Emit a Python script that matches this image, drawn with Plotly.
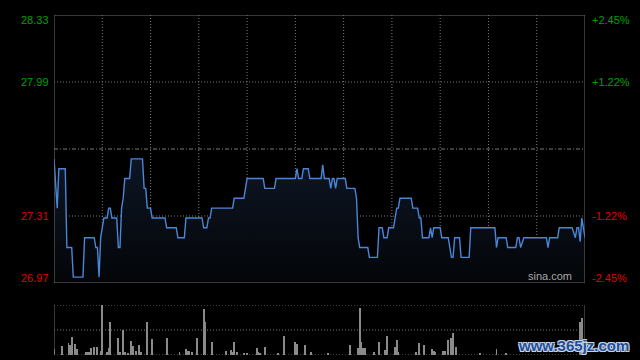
import plotly.graph_objects as go

# ---- data (HK session, 330 trading minutes) ----
prev_close = 27.65
y_low, y_high = 26.97, 28.33

price_minutes = [0, 2, 3, 7, 8, 11, 12, 18, 19, 25, 26, 27, 28, 29, 30, 31, 33, 34, 35, 36,
                 39, 40, 41, 42, 43, 44, 47, 48, 55, 56, 57, 58, 60, 61, 69, 70, 76, 77, 81, 82,
                 92, 93, 95, 96, 97, 98, 111, 112, 118, 119, 120, 130, 131, 137, 138, 150, 151, 152,
                 154, 155, 158, 159, 166, 167, 168, 171, 172, 173, 174, 175, 176, 181, 182, 187,
                 188, 189, 190, 195, 196, 201, 202, 204, 205, 207, 208, 211, 212, 213, 214, 215,
                 222, 223, 226, 227, 228, 229, 233, 234, 235, 236, 240, 241, 245, 247, 248, 249,
                 252, 253, 258, 259, 274, 275, 276, 281, 282, 287, 288, 289, 290, 292, 306, 307,
                 308, 313, 314, 322, 324, 325, 326, 327, 328, 330]
prices = [27.60, 27.35, 27.55, 27.55, 27.15, 27.15, 27.00, 27.00, 27.20, 27.20, 27.15, 27.15,
          27.00, 27.20, 27.25, 27.30, 27.30, 27.35, 27.35, 27.30,
          27.30, 27.15, 27.15, 27.35, 27.40, 27.50, 27.50, 27.60, 27.60, 27.45, 27.45, 27.35,
          27.35, 27.30, 27.30, 27.25, 27.25, 27.20, 27.20, 27.30,
          27.30, 27.25, 27.25, 27.30, 27.30, 27.35, 27.35, 27.40, 27.40, 27.45, 27.50, 27.50,
          27.45, 27.45, 27.50, 27.50, 27.55, 27.50,
          27.50, 27.55, 27.55, 27.50, 27.50, 27.57, 27.50, 27.50, 27.45, 27.50, 27.50, 27.45,
          27.50, 27.50, 27.45, 27.45,
          27.40, 27.20, 27.15, 27.15, 27.10, 27.10, 27.25, 27.25, 27.20, 27.20, 27.25, 27.25,
          27.30, 27.35, 27.35, 27.40,
          27.40, 27.35, 27.35, 27.30, 27.30, 27.20, 27.20, 27.25, 27.20, 27.25, 27.25, 27.20,
          27.20, 27.10, 27.10, 27.20,
          27.20, 27.10, 27.10, 27.25, 27.25, 27.15, 27.20, 27.20, 27.15, 27.15, 27.20, 27.20,
          27.15, 27.20, 27.20, 27.15,
          27.20, 27.20, 27.25, 27.25, 27.20, 27.25, 27.25, 27.18, 27.30, 27.20]

vol_minutes = [0, 5, 9, 10, 11, 13, 14, 20, 21, 22, 23, 25, 27, 29, 30, 33, 34, 35, 40, 41,
               43, 44, 46, 48, 49, 51, 53, 54, 58, 61, 70, 78, 82, 83, 84, 86, 89, 93, 94, 98,
               107, 110, 111, 112, 114, 118, 120, 126, 127, 128, 131, 139, 143, 150, 151, 156,
               160, 170, 184, 189, 190, 191, 192, 193, 199, 202, 206, 207, 212, 213, 214, 225,
               227, 230, 235, 236, 237, 242, 243, 245, 247, 248, 250, 265, 275, 281, 327, 328]
vol_values = [6, 9, 12, 10, 18, 11, 6, 3, 3, 3, 7, 8, 8, 4, 50, 3, 7, 33, 17, 3,
              25, 3, 2, 14, 9, 4, 10, 3, 33, 16, 17, 3, 6, 4, 4, 3, 17, 46, 33, 13,
              4, 5, 3, 13, 3, 2, 2, 7, 3, 2, 8, 2, 19, 13, 11, 10,
              3, 2, 10, 7, 47, 13, 7, 7, 3, 13, 5, 19, 8, 15, 3, 3,
              12, 10, 6, 4, 3, 4, 4, 15, 17, 22, 8, 2, 6, 2, 33, 37]

left_labels = ["28.33", "27.99", "27.31", "26.97"]
left_values = [28.33, 27.99, 27.31, 26.97]
right_labels = ["+2.45%", "+1.22%", "-1.22%", "-2.45%"]

GREEN = "#00a000"
RED = "#e00000"
GRID = "#7a7a7a"
BORDER = "#6e6e6e"
DOT = "1px,2px"

fig = go.Figure()

fig.add_trace(go.Scatter(
    x=price_minutes, y=prices, mode="lines",
    line=dict(color="#4a86d8", width=1.4),
    fill="tozeroy",
    fillgradient=dict(type="vertical",
                      colorscale=[[0, "rgb(3,5,8)"], [1, "rgb(14,22,36)"]],
                      start=y_low, stop=27.60),
    hoverinfo="skip", showlegend=False, xaxis="x", yaxis="y"))

fig.add_trace(go.Bar(
    x=vol_minutes, y=vol_values, width=0.6,
    marker=dict(color="#8a8a8a", line=dict(width=0)),
    hoverinfo="skip", showlegend=False, xaxis="x2", yaxis="y2"))

main_dom = [(360 - 283) / 360, (360 - 15) / 360]
vol_dom = [5 / 360, 55 / 360]

fig.update_layout(
    width=640, height=360,
    margin=dict(l=54, r=55, t=0, b=0),
    paper_bgcolor="black", plot_bgcolor="black",
    bargap=0,
    xaxis=dict(range=[0, 330], domain=[0, 1], showgrid=False, zeroline=False,
               showticklabels=False, anchor="y", fixedrange=True),
    yaxis=dict(range=[y_low, y_high], domain=main_dom, showgrid=False, zeroline=False,
               showticklabels=False, anchor="x"),
    xaxis2=dict(range=[0, 330], domain=[0, 1], showgrid=False, zeroline=False,
                showticklabels=False, anchor="y2"),
    yaxis2=dict(range=[0, 50], domain=vol_dom, showgrid=False, zeroline=False,
                showticklabels=False, anchor="x2"),
)

shapes = []
# vertical dotted grid (every 30 min) in the price pane
for m in range(30, 330, 30):
    shapes.append(dict(type="line", xref="x", yref="y", x0=m, x1=m, y0=y_low, y1=y_high,
                       line=dict(color=GRID, width=1, dash=DOT), layer="below"))
# horizontal grid
for v in [27.99, 27.31]:
    shapes.append(dict(type="line", xref="x", yref="y", x0=0, x1=330, y0=v, y1=v,
                       line=dict(color=GRID, width=1, dash=DOT), layer="below"))
shapes.append(dict(type="line", xref="x", yref="y", x0=0, x1=330, y0=prev_close, y1=prev_close,
                   line=dict(color=GRID, width=1, dash="4px,2px,1px,2px"), layer="below"))
# price pane border
shapes.append(dict(type="rect", xref="x", yref="y", x0=0, x1=330, y0=y_low, y1=y_high,
                   line=dict(color=BORDER, width=1)))
# volume pane frame
for v in [0, 25, 50]:
    shapes.append(dict(type="line", xref="x2", yref="y2", x0=0, x1=330, y0=v, y1=v,
                       line=dict(color=GRID, width=1, dash=DOT)))
for m in [0, 330]:
    shapes.append(dict(type="line", xref="x2", yref="y2", x0=m, x1=m, y0=0, y1=50,
                       line=dict(color=BORDER, width=1)))
fig.update_layout(shapes=shapes)

ann = []
shifts = [-5, 0, 0, 5]
for lab, val, rl, s in zip(left_labels, left_values, right_labels, shifts):
    col = GREEN if val > prev_close else RED
    ann.append(dict(text=lab, xref="paper", yref="y", x=0, y=val, xanchor="right",
                    yanchor="middle", xshift=-3, yshift=s, showarrow=False,
                    font=dict(family="Liberation Sans, Arial", size=11, color=col)))
    ann.append(dict(text=rl, xref="paper", yref="y", x=1, y=val, xanchor="left",
                    yanchor="middle", xshift=5, yshift=s, showarrow=False,
                    font=dict(family="Liberation Sans, Arial", size=11, color=col)))
ann.append(dict(text="sina.com", xref="paper", yref="y", x=1, y=y_low, xanchor="right",
                yanchor="bottom", xshift=-11, yshift=-1, showarrow=False,
                font=dict(family="Liberation Sans, Arial", size=11, color="#a8a8a8")))
ann.append(dict(text="<b>www.365jz.com</b>", xref="paper", yref="paper", x=1, y=15 / 360,
                xanchor="left", yanchor="middle", xshift=-69, showarrow=False,
                font=dict(family="Liberation Sans, Arial", size=15, color="#1f4f98",
                          shadow="1px 1px 0 #c8d4e6, -1px -1px 0 #c8d4e6, 1px -1px 0 #c8d4e6, -1px 1px 0 #c8d4e6")))
fig.update_layout(annotations=ann)

fig.write_html("out.html", config={"displayModeBar": False},
               post_script="document.body.style.margin='0';document.body.style.overflow='hidden';")
